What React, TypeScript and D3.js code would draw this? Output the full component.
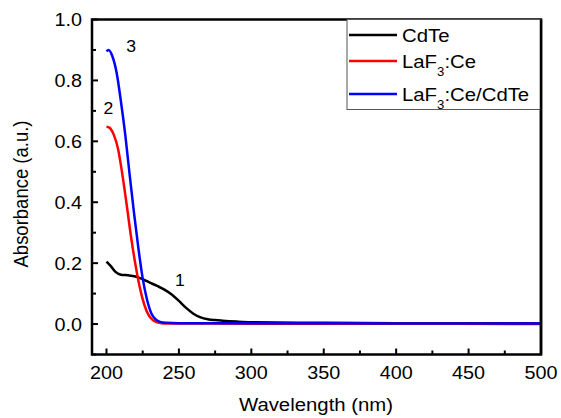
import React, { useEffect, useRef } from 'react';
import * as d3 from 'd3';

// Wavelength (nm) sample points for each spectrum
const cdteWl = [200, 203, 206, 210, 215, 220, 225, 230, 235, 240, 245, 250, 255, 260, 265, 270, 275, 280, 290, 300, 350, 400, 450, 500];
const cdteAbs = [0.205, 0.19, 0.172, 0.162, 0.16, 0.156, 0.147, 0.136, 0.125, 0.113, 0.097, 0.076, 0.053, 0.034, 0.022, 0.016, 0.013, 0.011, 0.008, 0.006, 0.004, 0.003, 0.003, 0.002];

const laWl = [200, 202, 205, 208, 211, 214, 217, 220, 223, 226, 229, 232, 235, 238, 242, 250, 300, 400, 500];
const laAbs = [0.648, 0.645, 0.622, 0.575, 0.49, 0.39, 0.285, 0.195, 0.12, 0.065, 0.03, 0.013, 0.006, 0.003, 0.002, 0.002, 0.001, 0.001, 0.0];

const laCdWl = [200, 201.5, 204, 207, 210, 213, 216, 219, 222, 225, 228, 231, 234, 237, 241, 250, 300, 400, 500];
const laCdAbs = [0.895, 0.9, 0.88, 0.825, 0.73, 0.62, 0.49, 0.365, 0.25, 0.15, 0.08, 0.035, 0.015, 0.007, 0.004, 0.003, 0.003, 0.002, 0.002];

const xTicks = [200, 250, 300, 350, 400, 450, 500];
const xMinor = [225, 275, 325, 375, 425, 475];
const yTicks = [0.0, 0.2, 0.4, 0.6, 0.8, 1.0];
const yMinor = [-0.1, 0.1, 0.3, 0.5, 0.7, 0.9];

const seriesNames = ['CdTe', 'LaF3:Ce', 'LaF3:Ce/CdTe'];
const seriesColors = ['#000000', '#ff0000', '#0000ff'];
const curveLabels = ['1', '2', '3'];
const labelAt = [[250, 0.125], [200, 0.69], [204, 0.9]];

const FONT = '"Liberation Sans", Arial, sans-serif';
const SX = 1.1; // horizontal stretch of the glyphs

const App = () => {
  const ref = useRef<SVGSVGElement | null>(null);

  useEffect(() => {
    const svg = d3.select(ref.current);
    svg.selectAll('*').remove();

    const x = d3.scaleLinear().domain([190, 500]).range([92, 541]);
    const y = d3.scaleLinear().domain([-0.1, 1.0]).range([354.5, 19.5]);

    const g = svg.append('g');

    // curves
    const series = [
      cdteWl.map((w, i) => [w, cdteAbs[i]]),
      laWl.map((w, i) => [w, laAbs[i]]),
      laCdWl.map((w, i) => [w, laCdAbs[i]]),
    ];
    const line = d3
      .line<number[]>()
      .x((d) => x(d[0]))
      .y((d) => y(d[1]))
      .curve(d3.curveMonotoneX);
    series.forEach((s, i) => {
      g.append('path')
        .attr('d', line(s))
        .attr('fill', 'none')
        .attr('stroke', seriesColors[i])
        .attr('stroke-width', 2.5)
        .attr('stroke-linejoin', 'round');
    });

    // frame
    g.append('rect')
      .attr('x', x(190))
      .attr('y', y(1.0))
      .attr('width', x(500) - x(190))
      .attr('height', y(-0.1) - y(1.0))
      .attr('fill', 'none')
      .attr('stroke', '#000')
      .attr('stroke-width', 2.5);

    const txt = (px: number, py: number, s: string, size: number, anchor = 'start') =>
      g
        .append('text')
        .attr('transform', `translate(${px},${py}) scale(${SX},1)`)
        .attr('text-anchor', anchor)
        .style('font-family', FONT)
        .style('font-size', `${size}px`)
        .attr('fill', '#000')
        .text(s);

    // x ticks
    const yb = y(-0.1);
    xTicks.forEach((t) => {
      g.append('line').attr('x1', x(t)).attr('x2', x(t)).attr('y1', yb).attr('y2', yb - 6)
        .attr('stroke', '#000').attr('stroke-width', 2);
      txt(x(t), 379, String(t), 18, 'middle');
    });
    xMinor.forEach((t) => {
      g.append('line').attr('x1', x(t)).attr('x2', x(t)).attr('y1', yb).attr('y2', yb - 4)
        .attr('stroke', '#000').attr('stroke-width', 2);
    });

    // y ticks
    const xl = x(190);
    yTicks.forEach((t) => {
      g.append('line').attr('x1', xl).attr('x2', xl + 6).attr('y1', y(t)).attr('y2', y(t))
        .attr('stroke', '#000').attr('stroke-width', 2);
      txt(82, y(t) + 6.5, t.toFixed(1), 18, 'end');
    });
    yMinor.forEach((t) => {
      g.append('line').attr('x1', xl).attr('x2', xl + 4).attr('y1', y(t)).attr('y2', y(t))
        .attr('stroke', '#000').attr('stroke-width', 2);
    });

    // axis titles
    txt(316, 411, 'Wavelength (nm)', 18.5, 'middle');
    g.append('text')
      .attr('transform', `translate(28,194) rotate(-90) scale(1,${SX})`)
      .attr('text-anchor', 'middle')
      .style('font-family', FONT)
      .style('font-size', '18.5px')
      .text('Absorbance (a.u.)');

    // curve numbers
    labelAt.forEach((p, i) => {
      const off = i === 0 ? [-4, 0] : i === 1 ? [-3, 0] : [14, 2];
      txt(x(p[0]) + off[0], y(p[1]) + off[1], curveLabels[i], 16, 'start');
    });

    // legend
    g.append('rect')
      .attr('x', 347)
      .attr('y', y(1.0))
      .attr('width', 194)
      .attr('height', 90)
      .attr('fill', '#fff')
      .attr('stroke', '#555')
      .attr('stroke-width', 1);
    const rows = [35, 61, 94];
    seriesNames.forEach((name, i) => {
      g.append('line')
        .attr('x1', 349).attr('x2', 397).attr('y1', rows[i]).attr('y2', rows[i])
        .attr('stroke', seriesColors[i]).attr('stroke-width', 2.5);
      const parts = name.split('3');
      const t = g
        .append('text')
        .attr('transform', `translate(402,${rows[i] + 6.5}) scale(${SX},1)`)
        .style('font-family', FONT)
        .style('font-size', '18.5px');
      t.append('tspan').text(parts[0]);
      if (parts.length > 1) {
        t.append('tspan').attr('dy', 8).style('font-size', '12px').text('3');
        t.append('tspan').attr('dy', -8).text(parts[1]);
      }
    });
    // redraw right frame over legend edge
    g.append('line')
      .attr('x1', x(500)).attr('x2', x(500)).attr('y1', y(1.0)).attr('y2', y(-0.1))
      .attr('stroke', '#000').attr('stroke-width', 2.5);
  }, []);

  return (
    <div>
      <svg
        ref={ref}
        width={561}
        height={418}
        style={{ display: 'block', position: 'absolute', left: 0, top: 0, background: '#fff' }}
      />
    </div>
  );
};

export default App;
